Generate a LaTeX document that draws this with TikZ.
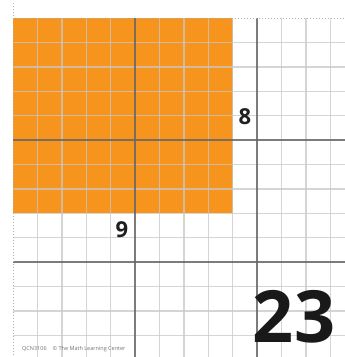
\documentclass[tikz,border=0pt]{standalone}
\usepackage{fontspec}
\setmainfont{Open Sans}
\definecolor{fillorange}{RGB}{247,148,29}
\begin{document}
\begin{tikzpicture}[x=1pt,y=-1pt,
  light/.style={draw={rgb,255:red,200;green,200;blue,200},line width=1.4pt,opacity=0.75},
  heavy/.style={draw=black!60,line width=1.8pt,opacity=0.85},
  border/.style={draw=black!30,line width=1pt,dotted},
  num/.style={font=\bfseries\fontsize{22}{22}\selectfont,text=black!88,inner sep=0pt,anchor=base},
  foot/.style={font=\fontsize{5.5}{6}\selectfont,text=black!55,inner sep=0pt,anchor=west}]
\useasboundingbox (0,0) rectangle (345,357);
\fill[white] (0,0) rectangle (345,357);
\fill[fillorange] (13,18) rectangle ({13+9*24.4},{18+8*24.4});
\foreach \k in {1,2,3,4,6,7,8,9,11,12,13} {
  \draw[light] ({13+\k*24.4},18) -- ({13+\k*24.4},357);
  \draw[light] (13,{18+\k*24.4}) -- (345,{18+\k*24.4});
}
\foreach \k in {5,10} {
  \draw[heavy] ({13+\k*24.4},18) -- ({13+\k*24.4},357);
  \draw[heavy] (13,{18+\k*24.4}) -- (345,{18+\k*24.4});
}
\draw[border] (13,18) -- (345,18);
\draw[border] (13,3) -- (13,357);
\node[num] (eight) at (245,124) {8};
\node[num] (nine) at (122,237) {9};
\node[num,font=\bfseries\fontsize{72}{72}\selectfont,text=black!90,text height=52pt,text depth=0pt] (num23) at (294,342) {23};
\node[foot] (footer) at (22,349) {QCN3106\hspace{6pt}© The Math Learning Center};
\end{tikzpicture}
\end{document}
